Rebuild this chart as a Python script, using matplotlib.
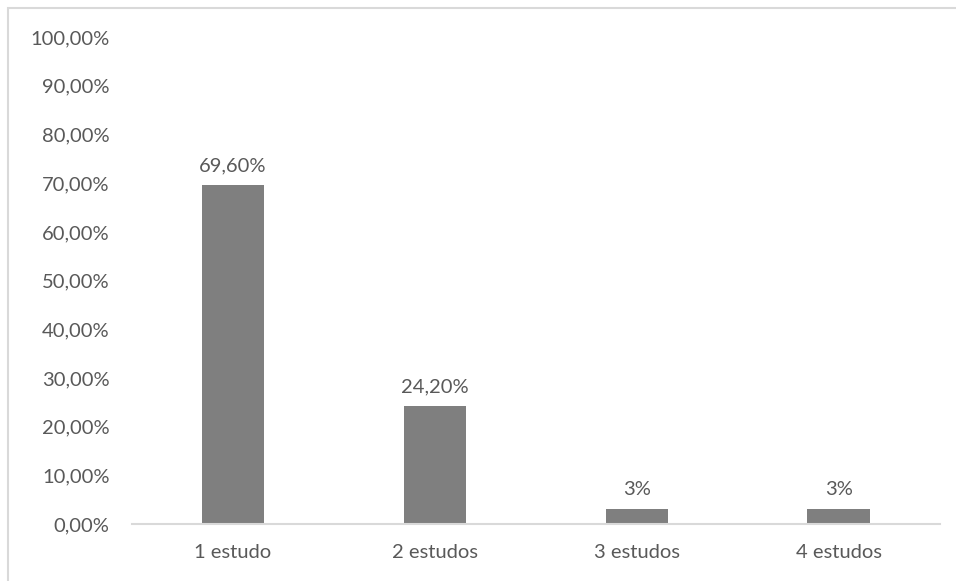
import matplotlib

matplotlib.use("Agg")

import matplotlib.pyplot as plt
from matplotlib.patches import Rectangle

categories = ["1 estudo", "2 estudos", "3 estudos", "4 estudos"]
values = [69.60, 24.20, 3, 3]
value_labels = ["69,60%", "24,20%", "3%", "3%"]
y_ticks = [0, 10, 20, 30, 40, 50, 60, 70, 80, 90, 100]

TEXT_COLOR = "#595959"
BAR_COLOR = "#7f7f7f"
AXIS_COLOR = "#d9d9d9"
FONT_SIZE = 14.5

plt.rcParams["font.family"] = ["Lato", "DejaVu Sans"]

fig = plt.figure(figsize=(9.56, 5.81), dpi=100)
ax = fig.add_axes([0.138, 0.098, 0.845, 0.838])

# chart-area frame
fig.patches.append(
    Rectangle((8 / 956, -0.1), 1.2, 1.1 - 8 / 581, transform=fig.transFigure,
              fill=False, edgecolor=AXIS_COLOR, linewidth=1.5)
)

x = range(len(categories))
bars = ax.bar(x, values, width=0.31, color=BAR_COLOR)
for bar, label in zip(bars, value_labels):
    ax.annotate(label, (bar.get_x() + bar.get_width() / 2, bar.get_height()),
                xytext=(0, 8), textcoords="offset points", ha="center", va="bottom",
                fontsize=FONT_SIZE, color=TEXT_COLOR)

ax.set_xlim(-0.5, len(categories) - 0.5)
ax.set_ylim(0, 100)
ax.set_yticks(y_ticks)
ax.set_yticklabels([f"{t:.2f}".replace(".", ",") + "%" for t in y_ticks])
ax.set_xticks(list(x))
ax.set_xticklabels(categories)
ax.tick_params(axis="y", length=0, pad=16, labelsize=FONT_SIZE, labelcolor=TEXT_COLOR)
ax.tick_params(axis="x", length=0, pad=14, labelsize=FONT_SIZE, labelcolor=TEXT_COLOR)

for side in ("top", "right", "left"):
    ax.spines[side].set_visible(False)
ax.spines["bottom"].set_color(AXIS_COLOR)
ax.spines["bottom"].set_linewidth(1.5)

fig.savefig("out.png", dpi=100)
plt.close(fig)
